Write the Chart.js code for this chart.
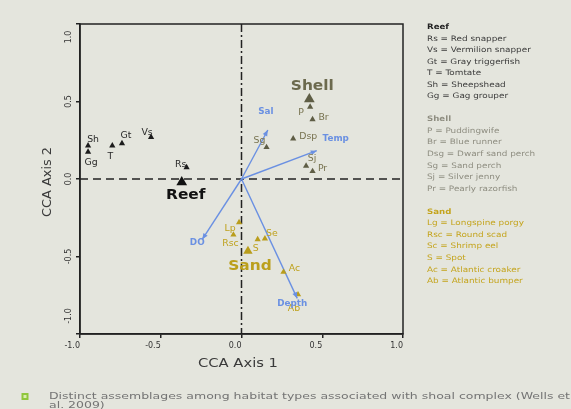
<!DOCTYPE html>
<html>
<head>
<meta charset="utf-8">
<script src="https://cdn.jsdelivr.net/npm/chart.js@4.4.1/dist/chart.umd.min.js"></script>
<style>
  html, body { margin: 0; padding: 0; background: #e4e5dd; }
  #cca { display: block; }
</style>
</head>
<body>
<canvas id="cca" width="571" height="409"></canvas>
<script>
// species scores on CCA axes 1 and 2
const reefCodes = ['Rs', 'Vs', 'Gt', 'T', 'Sh', 'Gg'];
const reefAxis1 = [-0.34, -0.56, -0.74, -0.80, -0.95, -0.95];
const reefAxis2 = [0.075, 0.27, 0.23, 0.215, 0.215, 0.175];

const shellCodes = ['P', 'Br', 'Dsp', 'Sg', 'Sj', 'Pr'];
const shellAxis1 = [0.425, 0.44, 0.32, 0.155, 0.40, 0.44];
const shellAxis2 = [0.465, 0.385, 0.26, 0.205, 0.085, 0.05];

const sandCodes = ['Lp', 'Rsc', 'S', 'Se', 'Ac', 'Ab'];
const sandAxis1 = [-0.015, -0.05, 0.10, 0.145, 0.26, 0.35];
const sandAxis2 = [-0.28, -0.36, -0.39, -0.385, -0.60, -0.745];

// habitat centroids
const habitats = ['Reef', 'Shell', 'Sand'];
const habitatAxis1 = [-0.37, 0.42, 0.04];
const habitatAxis2 = [-0.02, 0.515, -0.465];

// environmental vectors
const envVars = ['Sal', 'Temp', 'DO', 'Depth'];
const envAxis1 = [0.163, 0.466, -0.243, 0.345];
const envAxis2 = [0.316, 0.183, -0.389, -0.77];

const axisTicks = [-1.0, -0.5, 0.0, 0.5, 1.0];

// species key
const reefKey = ['Rs = Red snapper', 'Vs = Vermilion snapper', 'Gt = Gray triggerfish',
  'T = Tomtate', 'Sh = Sheepshead', 'Gg = Gag grouper'];
const shellKey = ['P = Puddingwife', 'Br = Blue runner', 'Dsg = Dwarf sand perch',
  'Sg = Sand perch', 'Sj = Silver jenny', 'Pr = Pearly razorfish'];
const sandKey = ['Lg = Longspine porgy', 'Rsc = Round scad', 'Sc = Shrimp eel',
  'S = Spot', 'Ac = Atlantic croaker', 'Ab = Atlantic bumper'];

const caption = ['Distinct assemblages among habitat types associated with shoal complex (Wells et',
  'al. 2009)'];

// colours
const REEF = '#1c1c1c';
const SHELL = '#5e5d45';
const SHELL_TEXT = '#77724f';
const SAND = '#b99d1c';
const SAND_TEXT = '#bfa21e';
const ENV = '#6a90e2';
const FONT = '"DejaVu Sans", sans-serif';

// label placement next to each mark, in pixels
const nudge = {
  Rs: [-6, -3], Vs: [-4, -4], Gt: [4, -8], T: [-2, 11], Sh: [5, -6], Gg: [3, 11],
  P: [-9, 6], Br: [11, -2], Dsp: [15, -2], Sg: [-7, -6], Sj: [6, -7], Pr: [10, -2],
  Lp: [-9, 6], Rsc: [-3, 9], S: [-2, 9], Se: [7, -5], Ac: [11, -3], Ab: [-4, 14],
  Reef: [4, 13], Shell: [3, -13], Sand: [2, 15],
  Sal: [-2, -18], Temp: [19, -12], DO: [-5, 4], Depth: [-5, 6]
};

const pts = (xs, ys) => xs.map((x, i) => ({ x: x, y: ys[i] }));

// draw text squeezed or stretched to a given width
function fitText(ctx, text, x, y, width) {
  const w = ctx.measureText(text).width;
  ctx.save();
  ctx.translate(x, y);
  ctx.scale(width / w, 1);
  ctx.fillText(text, 0, 0);
  ctx.restore();
}

// draw text with a fixed horizontal stretch
function wideText(ctx, text, x, y, k) {
  ctx.save();
  ctx.translate(x, y);
  ctx.scale(k, 1);
  ctx.fillText(text, 0, 0);
  ctx.restore();
}

const envDatasets = envVars.map((name, i) => ({
  type: 'line',
  label: name,
  data: [{ x: 0, y: 0 }, { x: envAxis1[i], y: envAxis2[i] }],
  borderColor: ENV,
  borderWidth: 1.4,
  pointRadius: 0,
  showLine: true,
  codes: [null, name],
  textColor: ENV,
  textFont: 'bold 8px ' + FONT,
  arrow: true
}));

const ccaPlugin = {
  id: 'ccaDecor',
  beforeDatasetsDraw(chart) {
    const { ctx, chartArea: a, scales: { x, y } } = chart;
    ctx.save();
    ctx.strokeStyle = '#222';
    ctx.lineWidth = 1.5;
    // zero lines
    ctx.setLineDash([8, 3, 2, 3]);
    ctx.beginPath();
    ctx.moveTo(x.getPixelForValue(0), a.top);
    ctx.lineTo(x.getPixelForValue(0), a.bottom);
    ctx.stroke();
    ctx.setLineDash([8, 5]);
    ctx.beginPath();
    ctx.moveTo(a.left, y.getPixelForValue(0));
    ctx.lineTo(a.right, y.getPixelForValue(0));
    ctx.stroke();
    ctx.restore();
  },
  afterDatasetsDraw(chart) {
    const { ctx, chartArea: a, scales: { y } } = chart;
    ctx.save();

    // arrowheads on the vectors
    chart.data.datasets.forEach((ds, di) => {
      if (!ds.arrow) return;
      const els = chart.getDatasetMeta(di).data;
      const p0 = els[0], p1 = els[1];
      const ang = Math.atan2(p1.y - p0.y, p1.x - p0.x);
      ctx.fillStyle = ENV;
      ctx.beginPath();
      ctx.moveTo(p1.x, p1.y);
      ctx.lineTo(p1.x - 6 * Math.cos(ang) + 2.5 * Math.sin(ang), p1.y - 6 * Math.sin(ang) - 2.5 * Math.cos(ang));
      ctx.lineTo(p1.x - 6 * Math.cos(ang) - 2.5 * Math.sin(ang), p1.y - 6 * Math.sin(ang) + 2.5 * Math.cos(ang));
      ctx.closePath();
      ctx.fill();
    });

    // point labels
    ctx.textAlign = 'center';
    ctx.textBaseline = 'middle';
    chart.data.datasets.forEach((ds, di) => {
      const els = chart.getDatasetMeta(di).data;
      ds.codes.forEach((code, i) => {
        if (!code) return;
        const off = nudge[code] || [0, 0];
        ctx.font = ds.textFont;
        ctx.fillStyle = Array.isArray(ds.textColor) ? ds.textColor[i] : ds.textColor;
        wideText(ctx, code, els[i].x + off[0], els[i].y + off[1], 1.1);
      });
    });

    // frame
    ctx.strokeStyle = '#222';
    ctx.lineWidth = 1.5;
    ctx.strokeRect(a.left, a.top, a.right - a.left, a.bottom - a.top);

    // rotated y tick labels
    ctx.font = '8px ' + FONT;
    ctx.fillStyle = '#333';
    axisTicks.forEach(v => {
      let py = y.getPixelForValue(v);
      py = Math.min(Math.max(py, a.top + 13), a.bottom - 18);
      ctx.save();
      ctx.translate(69, py);
      ctx.rotate(-Math.PI / 2);
      ctx.fillText(v.toFixed(1), 0, 0);
      ctx.restore();
    });

    // axis titles
    ctx.fillStyle = '#3a3a3a';
    ctx.font = '12px ' + FONT;
    ctx.textAlign = 'left';
    fitText(ctx, 'CCA Axis 1', 198, 364, 80);
    ctx.save();
    ctx.translate(48, 217);
    ctx.rotate(-Math.PI / 2);
    fitText(ctx, 'CCA Axis 2', 0, 0, 70);
    ctx.restore();

    // species key
    const keyX = 427, lh = 11.55;
    const groups = [
      ['Reef', reefKey, '#222', '#3a3a3a'],
      ['Shell', shellKey, '#8e8d80', '#8e8d80'],
      ['Sand', sandKey, '#c4a41c', '#c4a41c']
    ];
    let row = 0;
    groups.forEach(([head, items, hc, ic]) => {
      ctx.font = 'bold 7.5px ' + FONT;
      ctx.fillStyle = hc;
      wideText(ctx, head, keyX, 27 + row * lh, 1.15);
      row++;
      ctx.font = '7.5px ' + FONT;
      ctx.fillStyle = ic;
      items.forEach(t => {
        wideText(ctx, t, keyX, 27 + row * lh, 1.18);
        row++;
      });
      row++;
    });

    // caption with bullet
    ctx.fillStyle = '#8fc63c';
    ctx.fillRect(21.5, 393, 7, 7);
    ctx.fillStyle = '#d9ecb0';
    ctx.fillRect(23.5, 395, 3, 3);
    ctx.fillStyle = '#747474';
    ctx.font = '8.5px ' + FONT;
    fitText(ctx, caption[0], 49, 396.5, 521);
    wideText(ctx, caption[1], 49, 405.5, 521 / ctx.measureText(caption[0]).width);

    ctx.restore();
  }
};

new Chart(document.getElementById('cca'), {
  type: 'scatter',
  data: {
    datasets: [
      {
        label: 'Reef species',
        data: pts(reefAxis1, reefAxis2),
        pointStyle: 'triangle',
        pointRadius: 3.6,
        backgroundColor: REEF,
        borderWidth: 0,
        codes: reefCodes,
        textColor: '#2a2a2a',
        textFont: '8.5px ' + FONT
      },
      {
        label: 'Shell species',
        data: pts(shellAxis1, shellAxis2),
        pointStyle: 'triangle',
        pointRadius: 3.6,
        backgroundColor: SHELL,
        borderWidth: 0,
        codes: shellCodes,
        textColor: SHELL_TEXT,
        textFont: '8.5px ' + FONT
      },
      {
        label: 'Sand species',
        data: pts(sandAxis1, sandAxis2),
        pointStyle: 'triangle',
        pointRadius: 3.6,
        backgroundColor: SAND,
        borderWidth: 0,
        codes: sandCodes,
        textColor: SAND_TEXT,
        textFont: '8.5px ' + FONT
      },
      {
        label: 'Habitat centroids',
        data: pts(habitatAxis1, habitatAxis2),
        pointStyle: 'triangle',
        pointRadius: [6.2, 6.2, 5.4],
        backgroundColor: ['#111', SHELL, SAND],
        borderWidth: 0,
        codes: habitats,
        textColor: ['#111', '#6c6a4e', '#bb9f1c'],
        textFont: 'bold 14px ' + FONT
      },
      ...envDatasets
    ]
  },
  options: {
    responsive: false,
    animation: false,
    events: [],
    layout: { padding: { left: 0, top: 24, right: 168, bottom: 0 } },
    plugins: { legend: { display: false }, tooltip: { enabled: false } },
    scales: {
      x: {
        min: -1, max: 1,
        afterFit: s => { s.height = 75; },
        ticks: {
          stepSize: 0.5,
          align: 'end',
          padding: 3,
          color: '#333',
          font: { family: FONT, size: 8 },
          callback: v => Number(v).toFixed(1)
        },
        grid: { drawOnChartArea: false, drawTicks: true, tickLength: 4, color: '#222', lineWidth: 1.5 },
        border: { display: true, color: '#222', width: 1.5 }
      },
      y: {
        min: -1, max: 1,
        afterFit: s => { s.width = 80; },
        ticks: { stepSize: 0.5, display: false },
        grid: { drawOnChartArea: false, drawTicks: true, tickLength: 4, color: '#222', lineWidth: 1.5 },
        border: { display: true, color: '#222', width: 1.5 }
      }
    }
  },
  plugins: [ccaPlugin]
});
</script>
</body>
</html>
